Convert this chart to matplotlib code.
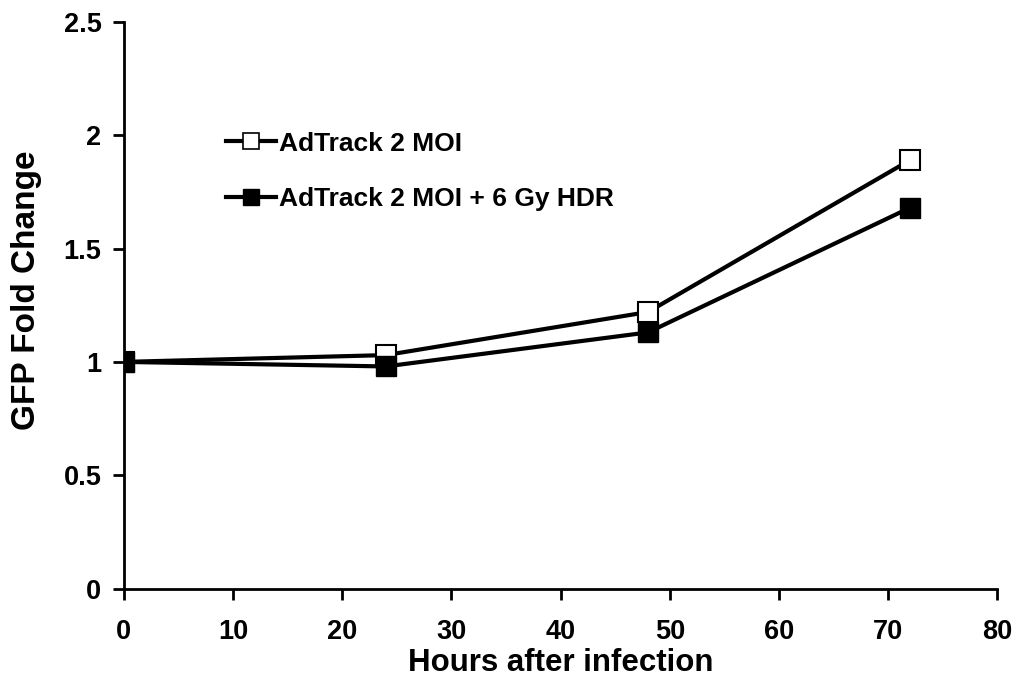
import numpy as np
import matplotlib.pyplot as plt
from matplotlib.lines import Line2D

plt.rcParams['font.family'] = ['Liberation Sans', 'DejaVu Sans']
plt.rcParams['font.weight'] = 'bold'

hours = [0, 24, 48, 72]
adtrack = [1.0, 1.03, 1.22, 1.89]
adtrack_err = [0.01, 0.02, 0.03, 0.04]
adtrack_hdr = [1.0, 0.98, 1.13, 1.68]
adtrack_hdr_err = [0.01, 0.02, 0.03, 0.04]

fig = plt.figure(figsize=(10.22, 6.79), dpi=100)
ax = fig.add_axes([0.121, 0.133, 0.855, 0.835])

ax.errorbar(hours, adtrack, yerr=adtrack_err, color='k', lw=3, marker='s', ms=15,
            mfc='white', mec='k', mew=1.5, ecolor='k', elinewidth=2, capsize=5, capthick=2,
            zorder=3)
ax.errorbar(hours, adtrack_hdr, yerr=adtrack_hdr_err, color='k', lw=3, marker='s', ms=15,
            mfc='k', mec='k', ecolor='k', elinewidth=2, capsize=5, capthick=2,
            zorder=4)

ax.set_xlim(0, 80)
ax.set_ylim(0, 2.5)
ax.set_xticks(np.arange(0, 81, 10))
ax.set_yticks([0, 0.5, 1, 1.5, 2, 2.5])
ax.set_yticklabels(['0', '0.5', '1', '1.5', '2', '2.5'])
ax.spines['top'].set_visible(False)
ax.spines['right'].set_visible(False)
ax.spines['left'].set_linewidth(2)
ax.spines['bottom'].set_linewidth(2)
ax.tick_params(direction='out', length=8, width=2, labelsize=19.5, pad=8)
ax.tick_params(axis='x', pad=14)
for lab in ax.get_xticklabels() + ax.get_yticklabels():
    lab.set_fontweight('bold')

ax.set_xlabel('Hours after infection', fontsize=22.5, fontweight='bold', labelpad=2)
ax.set_ylabel('GFP Fold Change', fontsize=24, fontweight='bold')
ax.yaxis.set_label_coords(-0.093, 0.527)

handles = [
    Line2D([], [], color='k', lw=3, marker='s', ms=11, mfc='white', mec='k', mew=1.2),
    Line2D([], [], color='k', lw=3, marker='s', ms=11, mfc='k', mec='k'),
]
labels = ['AdTrack 2 MOI', 'AdTrack 2 MOI + 6 Gy HDR']
leg = ax.legend(handles, labels, loc='upper left', bbox_to_anchor=(0.105, 0.825),
                frameon=False, fontsize=19, handlelength=1.9, handletextpad=0.1,
                labelspacing=1.2, borderaxespad=0)
for t in leg.get_texts():
    t.set_fontweight('bold')

fig.savefig('out.png', dpi=100)
